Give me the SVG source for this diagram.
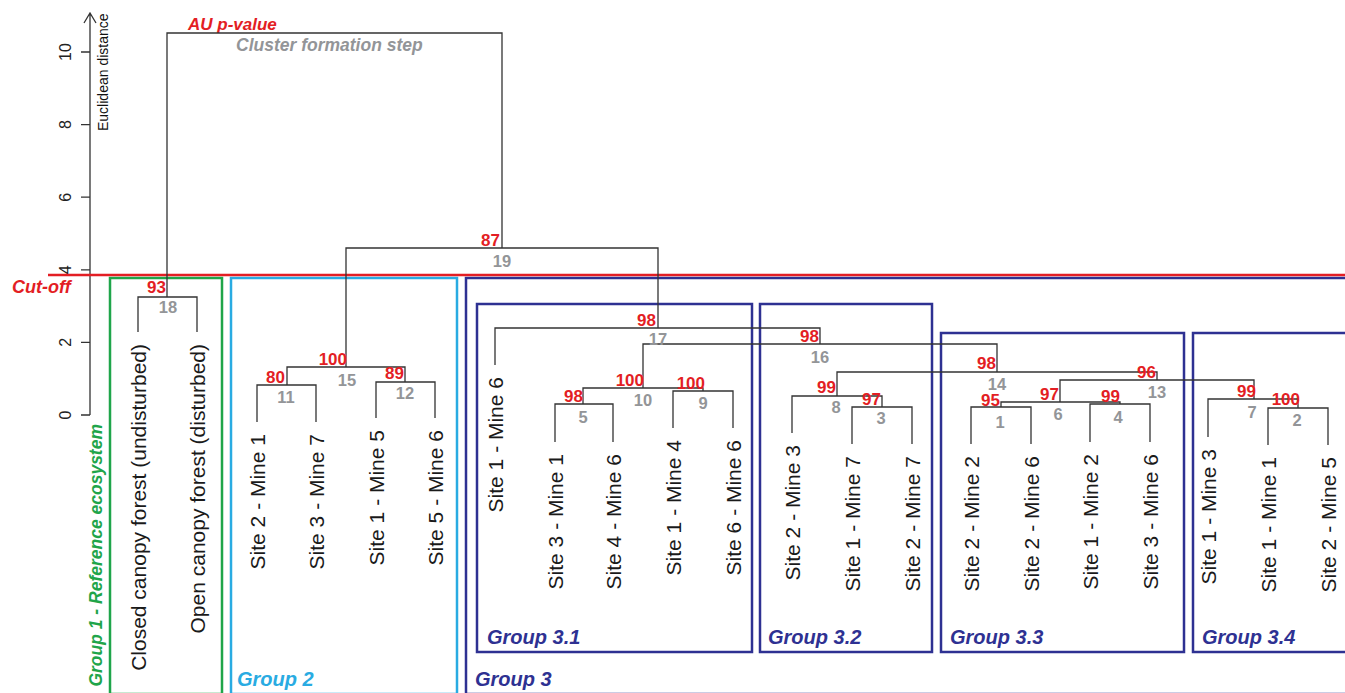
<svg xmlns="http://www.w3.org/2000/svg" width="1345" height="693" viewBox="0 0 1345 693">
<style>
.bg{fill:#fff}
.tree path{fill:none;stroke:#333;stroke-width:1.3}
.axis{fill:none;stroke:#333;stroke-width:1.3}
.tick{font-family:"Liberation Sans",Arial,sans-serif;font-size:16px;fill:#222;text-anchor:middle}
.ylab{font-family:"Liberation Sans",Arial,sans-serif;font-size:14px;fill:#111}
.au{font-family:"Liberation Sans",Arial,sans-serif;font-size:17px;font-weight:bold;fill:#e31e24;text-anchor:end}
.st{font-family:"Liberation Sans",Arial,sans-serif;font-size:16.5px;font-weight:bold;fill:#939598;text-anchor:middle}
.leaf{font-family:"Liberation Sans",Arial,sans-serif;font-size:21px;fill:#1a1a1a;text-anchor:end}
.gl{font-family:"Liberation Sans",Arial,sans-serif;font-size:20px;font-weight:bold;font-style:italic}
.gl1{font-size:17.5px}
.box{fill:none;stroke-width:2.5}
.g1{stroke:#1fa54a}.g2{stroke:#29abe2}.g3{stroke:#2e3192}
</style>
<rect class="bg" x="0" y="0" width="1345" height="693"/>

<g id="axis">
  <path class="axis" d="M90,415 V13 M84,23 L90,13 L96,23 M81,415 H90 M81,342.4 H90 M81,269.8 H90 M81,197.2 H90 M81,124.6 H90 M81,52 H90"/>
  <text class="tick" transform="translate(71,415) rotate(-90)">0</text>
  <text class="tick" transform="translate(71,342.4) rotate(-90)">2</text>
  <text class="tick" transform="translate(71,269.8) rotate(-90)">4</text>
  <text class="tick" transform="translate(71,197.2) rotate(-90)">6</text>
  <text class="tick" transform="translate(71,124.6) rotate(-90)">8</text>
  <text class="tick" transform="translate(71,52) rotate(-90)">10</text>
  <text class="ylab" transform="translate(108,131) rotate(-90)">Euclidean distance</text>
</g>

<g id="legend">
  <text x="188" y="30" font-family="Liberation Sans,Arial,sans-serif" font-size="17" font-weight="bold" font-style="italic" fill="#e31e24">AU p-value</text>
  <text x="236" y="51" font-family="Liberation Sans,Arial,sans-serif" font-size="17.5" font-weight="bold" font-style="italic" fill="#939598">Cluster formation step</text>
</g>

<g id="group1">
  <rect class="box g1" x="110" y="278" width="112" height="416"/>
  <text class="gl gl1" fill="#1fa54a" text-anchor="end" transform="translate(102,424) rotate(-90)">Group 1 - Reference ecosystem</text>
</g>
<g id="group2">
  <rect class="box g2" x="231" y="278" width="226" height="416"/>
  <text class="gl" fill="#29abe2" x="237" y="686">Group 2</text>
</g>
<g id="group3">
  <rect class="box g3" x="466" y="278" width="890" height="416"/>
  <text class="gl" fill="#2e3192" x="475" y="686">Group 3</text>
</g>
<g id="group3-1">
  <rect class="box g3" x="477" y="304" width="275" height="348"/>
  <text class="gl" fill="#2e3192" x="487" y="644">Group 3.1</text>
</g>
<g id="group3-2">
  <rect class="box g3" x="760" y="304" width="172" height="348"/>
  <text class="gl" fill="#2e3192" x="768" y="644">Group 3.2</text>
</g>
<g id="group3-3">
  <rect class="box g3" x="941" y="333" width="243" height="319"/>
  <text class="gl" fill="#2e3192" x="950" y="644">Group 3.3</text>
</g>
<g id="group3-4">
  <rect class="box g3" x="1193" y="333" width="170" height="319"/>
  <text class="gl" fill="#2e3192" x="1202" y="644">Group 3.4</text>
</g>

<g id="cutoff">
  <line x1="48" y1="275" x2="1345" y2="275" stroke="#e31e24" stroke-width="2.5"/>
  <text x="12" y="293" font-family="Liberation Sans,Arial,sans-serif" font-size="18" font-weight="bold" font-style="italic" fill="#e31e24">Cut-off</text>
</g>

<g id="connectors" class="tree">
  <path d="M167,297 V33 H502 V248"/>
  <path d="M138,332 V297 H197 V332"/>
  <path d="M346,367 V248 H658 V328"/>
  <path d="M287,385 V367 H405 V382"/>
  <path d="M257,422 V385 H316 V422"/>
  <path d="M376,418 V382 H435 V418"/>
  <path d="M495,365 V328 H820 V344"/>
  <path d="M643,388 V344 H997 V372"/>
  <path d="M583,404 V388 H703 V391"/>
  <path d="M555,442 V404 H613 V442"/>
  <path d="M673,428 V391 H733 V428"/>
  <path d="M837,396 V372 H1157 V380"/>
  <path d="M792,433 V396 H882 V407"/>
  <path d="M852,444 V407 H912 V444"/>
  <path d="M1060,402 V380 H1254 V399"/>
  <path d="M1001,407 V402 H1120 V404"/>
  <path d="M971,444 V407 H1031 V444"/>
  <path d="M1090,442 V404 H1150 V442"/>
  <path d="M1208,437 V399 H1298 V408"/>
  <path d="M1268,445 V408 H1328 V445"/>
</g>

<g id="au-values">
  <text class="au" x="166" y="293">93</text>
  <text class="au" x="500" y="246">87</text>
  <text class="au" x="347" y="365">100</text>
  <text class="au" x="285" y="383">80</text>
  <text class="au" x="404" y="379">89</text>
  <text class="au" x="656" y="326">98</text>
  <text class="au" x="644" y="386">100</text>
  <text class="au" x="705" y="389">100</text>
  <text class="au" x="583" y="402">98</text>
  <text class="au" x="819" y="342">98</text>
  <text class="au" x="996" y="369">98</text>
  <text class="au" x="836" y="393">99</text>
  <text class="au" x="881" y="405">97</text>
  <text class="au" x="1000" y="406">95</text>
  <text class="au" x="1156" y="378">96</text>
  <text class="au" x="1059" y="400">97</text>
  <text class="au" x="1120" y="402">99</text>
  <text class="au" x="1256" y="397">99</text>
  <text class="au" x="1300" y="405">100</text>
</g>

<g id="steps">
  <text class="st" x="168" y="313">18</text>
  <text class="st" x="502" y="267">19</text>
  <text class="st" x="347" y="386">15</text>
  <text class="st" x="286" y="403">11</text>
  <text class="st" x="405" y="399">12</text>
  <text class="st" x="658" y="345">17</text>
  <text class="st" x="643" y="406">10</text>
  <text class="st" x="703" y="409">9</text>
  <text class="st" x="583" y="423">5</text>
  <text class="st" x="820" y="363">16</text>
  <text class="st" x="997" y="390">14</text>
  <text class="st" x="836" y="413">8</text>
  <text class="st" x="881" y="424">3</text>
  <text class="st" x="1000" y="428">1</text>
  <text class="st" x="1157" y="398">13</text>
  <text class="st" x="1058" y="420">6</text>
  <text class="st" x="1118" y="423">4</text>
  <text class="st" x="1252" y="418">7</text>
  <text class="st" x="1297" y="426">2</text>
</g>

<g id="leaves">
  <text class="leaf" transform="translate(145.5,344) rotate(-90)">Closed canopy forest (undisturbed)</text>
  <text class="leaf" transform="translate(204.5,344) rotate(-90)">Open canopy forest (disturbed)</text>
  <text class="leaf" transform="translate(264.5,434) rotate(-90)">Site 2 - Mine 1</text>
  <text class="leaf" transform="translate(323.5,434) rotate(-90)">Site 3 - Mine 7</text>
  <text class="leaf" transform="translate(383.5,430) rotate(-90)">Site 1 - Mine 5</text>
  <text class="leaf" transform="translate(442.5,430) rotate(-90)">Site 5 - Mine 6</text>
  <text class="leaf" transform="translate(502.5,377) rotate(-90)">Site 1 - Mine 6</text>
  <text class="leaf" transform="translate(562.5,454) rotate(-90)">Site 3 - Mine 1</text>
  <text class="leaf" transform="translate(620.5,454) rotate(-90)">Site 4 - Mine 6</text>
  <text class="leaf" transform="translate(680.5,440) rotate(-90)">Site 1 - Mine 4</text>
  <text class="leaf" transform="translate(740.5,440) rotate(-90)">Site 6 - Mine 6</text>
  <text class="leaf" transform="translate(799.5,445) rotate(-90)">Site 2 - Mine 3</text>
  <text class="leaf" transform="translate(859.5,456) rotate(-90)">Site 1 - Mine 7</text>
  <text class="leaf" transform="translate(919.5,456) rotate(-90)">Site 2 - Mine 7</text>
  <text class="leaf" transform="translate(978.5,456) rotate(-90)">Site 2 - Mine 2</text>
  <text class="leaf" transform="translate(1038.5,456) rotate(-90)">Site 2 - Mine 6</text>
  <text class="leaf" transform="translate(1097.5,454) rotate(-90)">Site 1 - Mine 2</text>
  <text class="leaf" transform="translate(1157.5,454) rotate(-90)">Site 3 - Mine 6</text>
  <text class="leaf" transform="translate(1215.5,449) rotate(-90)">Site 1 - Mine 3</text>
  <text class="leaf" transform="translate(1275.5,457) rotate(-90)">Site 1 - Mine 1</text>
  <text class="leaf" transform="translate(1335.5,457) rotate(-90)">Site 2 - Mine 5</text>
</g>
</svg>
